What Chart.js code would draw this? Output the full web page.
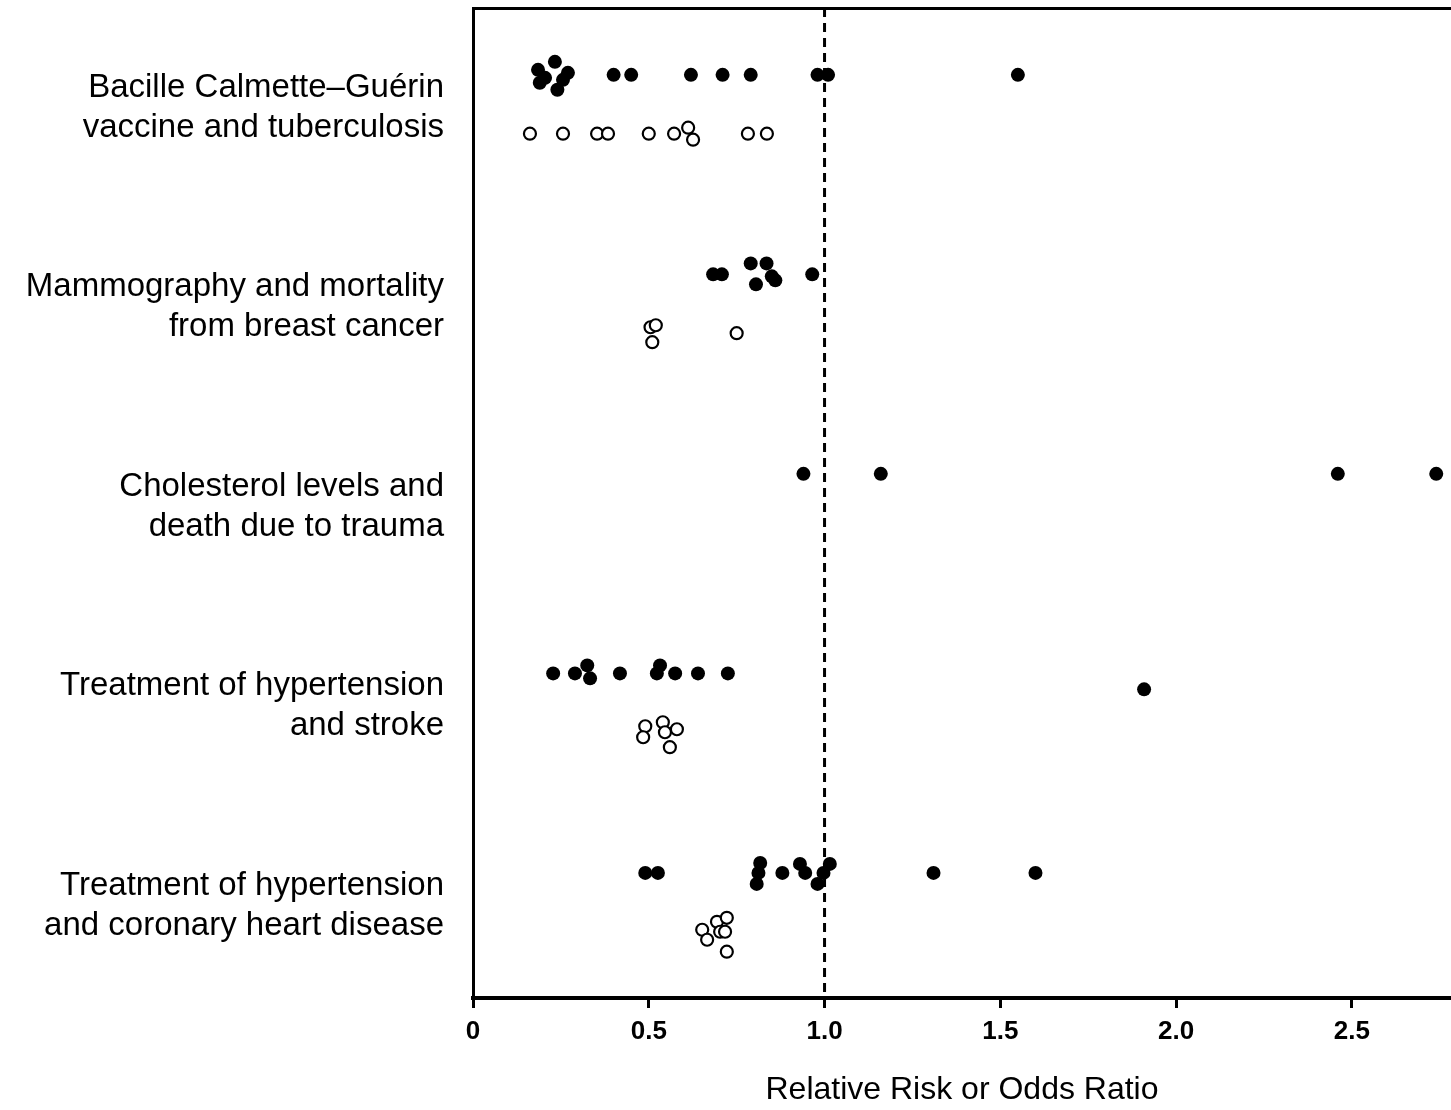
<!DOCTYPE html>
<html>
<head>
<meta charset="utf-8">
<script src="https://cdn.jsdelivr.net/npm/chart.js@4/dist/chart.umd.min.js"></script>
<style>
  body { margin: 0; background: #fff; }
  canvas { display: block; }
</style>
</head>
<body>
<canvas id="myChart" width="1451" height="1110"></canvas>
<script>
// row labels (top to bottom)
const rowLabels = [
    ["Bacille Calmette\u2013Gu\u00e9rin", "vaccine and tuberculosis"],
    ["Mammography and mortality", "from breast cancer"],
    ["Cholesterol levels and", "death due to trauma"],
    ["Treatment of hypertension", "and stroke"],
    ["Treatment of hypertension", "and coronary heart disease"]
]
const xTicks = [0, 0.5, 1.0, 1.5, 2.0, 2.5]
const xTitle = "Relative Risk or Odds Ratio"
const referenceValue = 1.0

// filled dots = first series, open circles = second series of each row
const bcgFilled = [0.185, 0.19, 0.205, 0.233, 0.24, 0.256, 0.27, 0.40, 0.45, 0.62, 0.71, 0.79, 0.98, 1.01, 1.55]
const bcgFilledJitter = [-0.025, 0.04, 0.015, -0.065, 0.075, 0.025, -0.01, 0, 0, 0, 0, 0, 0, 0, 0]
const bcgOpen = [0.162, 0.256, 0.353, 0.384, 0.50, 0.572, 0.612, 0.626, 0.782, 0.836]
const bcgOpenJitter = [0, 0, 0, 0, 0, 0, -0.03, 0.03, 0, 0]

const mammoFilled = [0.683, 0.708, 0.79, 0.805, 0.835, 0.85, 0.86, 0.965]
const mammoFilledJitter = [0, 0, -0.055, 0.05, -0.055, 0.01, 0.03, 0]
const mammoOpen = [0.505, 0.52, 0.51, 0.75]
const mammoOpenJitter = [-0.03, -0.04, 0.045, 0]

const cholFilled = [0.94, 1.16, 2.46, 2.74]
const cholFilledJitter = [0, 0, 0, 0]

const strokeFilled = [0.228, 0.29, 0.325, 0.333, 0.418, 0.523, 0.532, 0.575, 0.64, 0.725, 1.909]
const strokeFilledJitter = [0, 0, -0.04, 0.025, 0, 0, -0.04, 0, 0, 0, 0.08]
const strokeOpen = [0.49, 0.484, 0.54, 0.546, 0.58, 0.56]
const strokeOpenJitter = [-0.03, 0.025, -0.05, 0, -0.015, 0.075]

const chdFilled = [0.49, 0.526, 0.807, 0.812, 0.817, 0.88, 0.93, 0.945, 0.98, 0.997, 1.015, 1.31, 1.60]
const chdFilledJitter = [0, 0, 0.055, 0, -0.05, 0, -0.045, 0, 0.055, 0, -0.045, 0, 0]
const chdOpen = [0.652, 0.666, 0.694, 0.703, 0.722, 0.717, 0.722]
const chdOpenJitter = [-0.01, 0.04, -0.05, 0, -0.07, 0, 0.1]

const rows = [
    { filled: bcgFilled, filledJ: bcgFilledJitter, open: bcgOpen, openJ: bcgOpenJitter },
    { filled: mammoFilled, filledJ: mammoFilledJitter, open: mammoOpen, openJ: mammoOpenJitter },
    { filled: cholFilled, filledJ: cholFilledJitter, open: [], openJ: [] },
    { filled: strokeFilled, filledJ: strokeFilledJitter, open: strokeOpen, openJ: strokeOpenJitter },
    { filled: chdFilled, filledJ: chdFilledJitter, open: chdOpen, openJ: chdOpenJitter }
]

const FONT = "'Liberation Sans', Arial, sans-serif"

const datasets = []
rows.forEach((row, i) => {
    datasets.push({
        data: row.filled.map((v, k) => ({ x: v, y: i + 0.335 + row.filledJ[k] })),
        pointRadius: 7,
        pointBackgroundColor: '#000',
        pointBorderColor: '#000',
        pointBorderWidth: 0,
        showLine: false
    })
    if (row.open.length) {
        datasets.push({
            data: row.open.map((v, k) => ({ x: v, y: i + 0.63 + row.openJ[k] })),
            pointRadius: 6,
            pointBackgroundColor: '#fff',
            pointBorderColor: '#000',
            pointBorderWidth: 2.2,
            showLine: false
        })
    }
})

// dashed reference line at RR = 1
datasets.unshift({
    type: 'line',
    data: [{ x: referenceValue, y: 0 }, { x: referenceValue, y: 4.962 }],
    borderColor: '#000',
    borderWidth: 3,
    borderDash: [9, 6],
    pointRadius: 0,
    showLine: true,
    order: 10
})

const noPad = (axis) => {
    axis.paddingTop = 0
    axis.paddingBottom = 0
    axis.paddingLeft = 0
    axis.paddingRight = 0
}

const ctx = document.querySelector("#myChart").getContext("2d")

new Chart(ctx, {
    type: 'scatter',
    data: { datasets: datasets },
    options: {
        responsive: false,
        animation: false,
        clip: false,
        layout: { autoPadding: false, padding: { top: 8, right: 0, bottom: 0, left: 0 } },
        plugins: {
            legend: { display: false },
            tooltip: { enabled: false }
        },
        scales: {
            x: {
                type: 'linear',
                position: 'bottom',
                min: 0,
                max: 2.782,
                afterBuildTicks: (axis) => {
                    axis.ticks = xTicks.map(v => ({ value: v }))
                },
                afterFit: (axis) => { axis.height = 112; noPad(axis) },
                border: { display: true, color: '#000', width: 4 },
                grid: {
                    display: true,
                    drawOnChartArea: false,
                    drawTicks: true,
                    tickLength: 10,
                    tickWidth: 3,
                    tickColor: '#000'
                },
                ticks: {
                    color: '#000',
                    padding: 8,
                    maxRotation: 0,
                    font: { family: FONT, size: 26, weight: 'bold' },
                    callback: (v) => v === 0 ? "0" : v.toFixed(1)
                },
                title: {
                    display: true,
                    text: xTitle,
                    color: '#000',
                    padding: { top: 0, bottom: 1 },
                    font: { family: FONT, size: 32 }
                }
            },
            xTop: {
                type: 'linear',
                position: 'top',
                min: 0,
                max: 2.782,
                afterFit: (axis) => { axis.height = 0; noPad(axis) },
                border: { display: true, color: '#000', width: 3 },
                grid: { display: false, drawTicks: false },
                ticks: { display: false }
            },
            y: {
                type: 'linear',
                position: 'left',
                min: 0,
                max: 4.962,
                reverse: true,
                afterBuildTicks: (axis) => {
                    axis.ticks = rowLabels.map((l, i) => ({ value: i + 0.5 }))
                },
                afterFit: (axis) => { axis.width = 473; noPad(axis) },
                border: { display: true, color: '#000', width: 3 },
                grid: { display: false, drawTicks: false },
                ticks: {
                    color: '#000',
                    padding: 29,
                    font: { family: FONT, size: 33, lineHeight: 1.21 },
                    callback: (v) => rowLabels[Math.round(v - 0.5)]
                }
            }
        }
    }
})
</script>
</body>
</html>
